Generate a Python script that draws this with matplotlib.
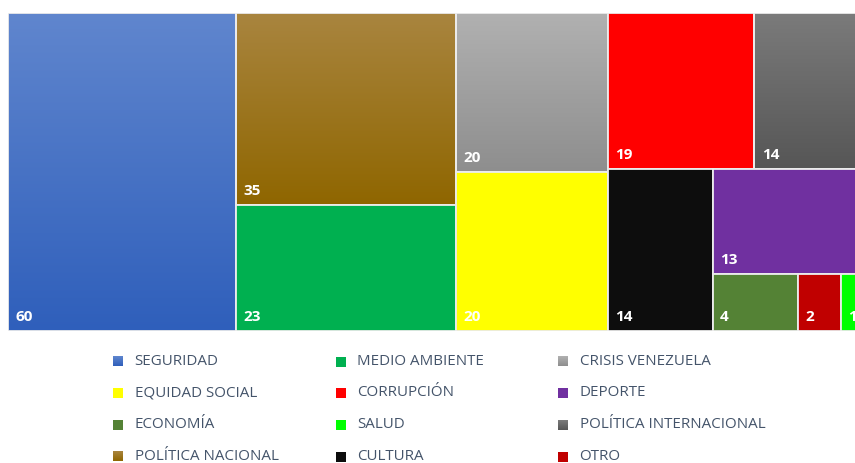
import matplotlib
matplotlib.use("Agg")
import matplotlib.pyplot as plt
import numpy as np
from matplotlib.patches import Rectangle
from matplotlib.colors import LinearSegmentedColormap

# ---- data (legend order) ----
categories = ["SEGURIDAD", "MEDIO AMBIENTE", "CRISIS VENEZUELA",
              "EQUIDAD SOCIAL", "CORRUPCIÓN", "DEPORTE",
              "ECONOMÍA", "SALUD", "POLÍTICA INTERNACIONAL",
              "POLÍTICA NACIONAL", "CULTURA", "OTRO"]
values = [60, 23, 20, 20, 19, 13, 4, 1, 14, 35, 14, 2]
# (top colour, bottom colour) -- equal for flat fills
colors = [("#6086ce", "#2f5fbb"), ("#00b050", "#00b050"), ("#b1b1b1", "#8e8e8e"),
          ("#ffff00", "#ffff00"), ("#ff0000", "#ff0000"), ("#7030a0", "#7030a0"),
          ("#548235", "#548235"), ("#00ff00", "#00ff00"), ("#7b7b7b", "#565656"),
          ("#a9853f", "#8f6600"), ("#0d0d0d", "#0d0d0d"), ("#c00000", "#c00000")]

W_PX, H_PX = 855, 463
fig = plt.figure(figsize=(W_PX / 100, H_PX / 100), dpi=100)

# treemap area (extends slightly past the right edge as in the reference)
left, top, width, height = 8.3, 12.5, 854.0, 318.5
ax = fig.add_axes([left / W_PX, 1 - (top + height) / H_PX, width / W_PX, height / H_PX])
ax.set_xlim(0, width)
ax.set_ylim(height, 0)
ax.axis("off")


def worst(row, side):
    s = sum(row)
    return max(max(side * side * r / (s * s), s * s / (side * side * r)) for r in row)


def squarify(vals, x, y, w, h):
    total = float(sum(vals))
    areas = [v * w * h / total for v in vals]
    rects = []
    i = 0
    while i < len(areas):
        side = min(w, h)
        row = [areas[i]]
        j = i + 1
        while j < len(areas) and worst(row + [areas[j]], side) <= worst(row, side):
            row.append(areas[j])
            j += 1
        s = sum(row)
        if w >= h:
            cw = s / h
            yy = y
            for a in row:
                rh = a / cw
                rects.append((x, yy, cw, rh))
                yy += rh
            x += cw
            w -= cw
        else:
            rh = s / w
            xx = x
            for a in row:
                cw = a / rh
                rects.append((xx, y, cw, rh))
                xx += cw
            y += rh
            h -= rh
        i = j
    return rects


order = sorted(range(len(values)), key=lambda k: -values[k])
rects = squarify([values[k] for k in order], 0, 0, width, height)

grad = np.linspace(0, 1, 256).reshape(-1, 1)
for k, (x, y, w, h) in zip(order, rects):
    c_top, c_bot = colors[k]
    if c_top != c_bot:
        cmap = LinearSegmentedColormap.from_list("g%d" % k, [c_top, c_bot])
        ax.imshow(grad, cmap=cmap, aspect="auto", extent=(x, x + w, y + h, y),
                  interpolation="bilinear", zorder=1)
        ax.add_patch(Rectangle((x, y), w, h, facecolor="none",
                               edgecolor="#ececec", linewidth=1.3, zorder=2))
    else:
        ax.add_patch(Rectangle((x, y), w, h, facecolor=c_top,
                               edgecolor="#ececec", linewidth=1.3, zorder=2))
    ax.text(x + 7.5, y + h - 10, str(values[k]), color="white", fontsize=11,
            fontweight="bold", family="Open Sans", ha="left", va="baseline", zorder=3)

ax.set_xlim(0, width)
ax.set_ylim(height, 0)

# ---- legend (manual, row-major in 3 columns) ----
lg = fig.add_axes([0, 0, 1, 1])
lg.set_xlim(0, W_PX)
lg.set_ylim(H_PX, 0)
lg.axis("off")
lg.patch.set_visible(False)
col_x = [113, 335.5, 558]
row_y = [361.5, 393.0, 425.0, 456.5]
for i, name in enumerate(categories):
    r, c = divmod(i, 3)
    ct, cb = colors[i]
    if ct == cb:
        lg.add_patch(Rectangle((col_x[c], row_y[r] - 5), 10, 10, facecolor=ct,
                               edgecolor="none"))
    else:
        cmap = LinearSegmentedColormap.from_list("l%d" % i, [ct, cb])
        lg.imshow(grad, cmap=cmap, aspect="auto",
                  extent=(col_x[c], col_x[c] + 10, row_y[r] + 5, row_y[r] - 5))
    lg.text(col_x[c] + 21.5, row_y[r], name, color="#44546a", fontsize=10.9,
            family="Open Sans", ha="left", va="center")
lg.set_xlim(0, W_PX)
lg.set_ylim(H_PX, 0)

fig.savefig("out.png", dpi=100)
